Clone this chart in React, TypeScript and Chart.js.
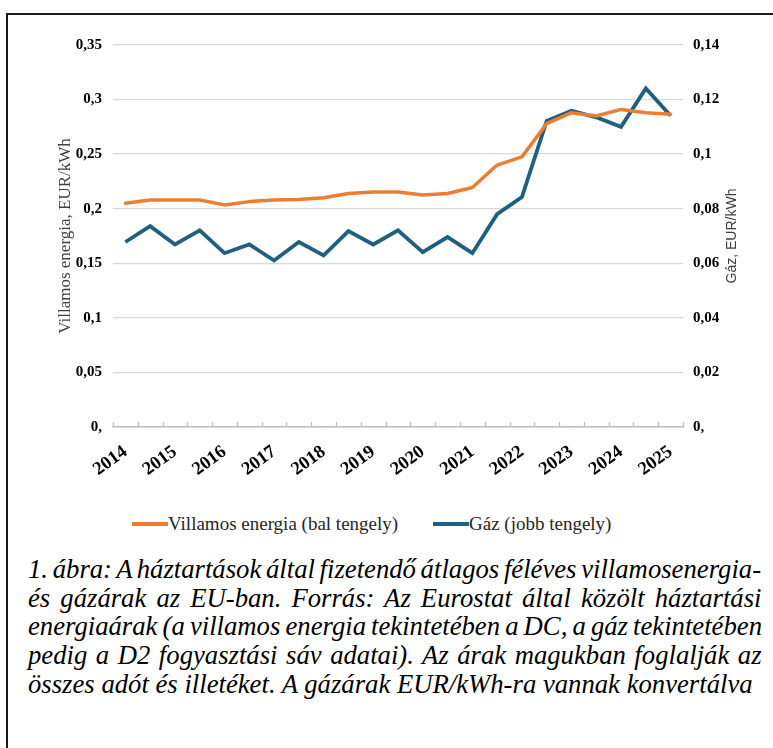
import React, { useEffect, useRef } from "react";
import { Chart, registerables } from "chart.js";

Chart.register(...registerables);

const PERIODS = [
  "2014-S1", "2014-S2", "2015-S1", "2015-S2", "2016-S1", "2016-S2",
  "2017-S1", "2017-S2", "2018-S1", "2018-S2", "2019-S1", "2019-S2",
  "2020-S1", "2020-S2", "2021-S1", "2021-S2", "2022-S1", "2022-S2",
  "2023-S1", "2023-S2", "2024-S1", "2024-S2", "2025-S1",
];
const YEARS = ["2014", "2015", "2016", "2017", "2018", "2019", "2020", "2021", "2022", "2023", "2024", "2025"];

const ELECTRICITY = [
  0.205, 0.208, 0.208, 0.208, 0.2035, 0.2065, 0.208, 0.2085, 0.21, 0.214, 0.2153, 0.2153,
  0.2125, 0.214, 0.2195, 0.24, 0.2475, 0.278, 0.288, 0.285, 0.291, 0.288, 0.2865,
];
const GAS = [
  0.0678, 0.0736, 0.0669, 0.0721, 0.0637, 0.0669, 0.061, 0.0678, 0.0629, 0.0718, 0.0669, 0.0721,
  0.0641, 0.0696, 0.0637, 0.078, 0.0843, 0.1122, 0.1159, 0.1135, 0.11, 0.1241, 0.1141,
];

const LEFT_TICKS = ["0,", "0,05", "0,1", "0,15", "0,2", "0,25", "0,3", "0,35"];
const RIGHT_TICKS = ["0,", "0,02", "0,04", "0,06", "0,08", "0,1", "0,12", "0,14"];

const LEFT_TITLE = "Villamos energia, EUR/kWh";
const RIGHT_TITLE = "Gáz, EUR/kWh";
const SERIES_NAMES = ["Villamos energia (bal tengely)", "Gáz (jobb tengely)"];
const CAPTION_LINES = [
  "1. ábra: A háztartások által fizetendő átlagos féléves villamosenergia-",
  "és gázárak az EU-ban. Forrás: Az Eurostat által közölt háztartási",
  "energiaárak (a villamos energia tekintetében a DC, a gáz tekintetében",
  "pedig a D2 fogyasztási sáv adatai). Az árak magukban foglalják az",
  "összes adót és illetéket. A gázárak EUR/kWh-ra vannak konvertálva",
];

const ORANGE = "#ED7D31";
const BLUE = "#1F5F80";
const SERIF = '"Liberation Serif", "Times New Roman", serif';

const extrasPlugin = {
  id: "extras",
  afterDraw(chart: any) {
    const { ctx, chartArea, scales } = chart;
    const xs = scales.x;
    ctx.save();
    ctx.strokeStyle = "#bfbfbf";
    ctx.lineWidth = 1.3;
    for (let i = 0; i <= PERIODS.length; i++) {
      const x = Math.round(xs.getPixelForValue(i - 0.5)) + 0.5;
      ctx.beginPath();
      ctx.moveTo(x, chartArea.bottom);
      ctx.lineTo(x, chartArea.bottom - 5);
      ctx.stroke();
    }
    const cy = (chartArea.top + chartArea.bottom) / 2;
    ctx.translate(732, cy);
    ctx.rotate(-Math.PI / 2);
    ctx.fillStyle = "#404040";
    ctx.font = '14px "Liberation Sans"';
    ctx.textAlign = "center";
    ctx.textBaseline = "middle";
    ctx.fillText(RIGHT_TITLE, 0, 0);
    ctx.restore();
  },
};

function ChartCanvas() {
  const ref = useRef<HTMLCanvasElement | null>(null);
  useEffect(() => {
    if (!ref.current) return;
    const tickFont = { family: SERIF, weight: "bold" as const, size: 15 };
    const chart = new Chart(ref.current, {
      type: "line",
      data: {
        labels: PERIODS,
        datasets: [
          {
            label: SERIES_NAMES[0],
            data: ELECTRICITY,
            yAxisID: "y",
            borderColor: ORANGE,
            backgroundColor: ORANGE,
            borderWidth: 3.5,
            pointRadius: 0,
            borderJoinStyle: "round",
            borderCapStyle: "round",
          },
          {
            label: SERIES_NAMES[1],
            data: GAS,
            yAxisID: "y1",
            borderColor: BLUE,
            backgroundColor: BLUE,
            borderWidth: 3.8,
            pointRadius: 0,
            borderJoinStyle: "miter",
            borderCapStyle: "butt",
          },
        ],
      },
      options: {
        responsive: false,
        animation: false,
        layout: { padding: { left: 0, right: 0, top: 45, bottom: 0 } },
        plugins: { legend: { display: false }, tooltip: { enabled: false } },
        scales: {
          x: {
            type: "category",
            offset: true,
            grid: { display: false, drawTicks: false },
            border: { display: true, color: "#bfbfbf", width: 1.5 },
            ticks: {
              autoSkip: false,
              maxRotation: 36,
              minRotation: 36,
              padding: 14,
              color: "#000",
              font: { family: SERIF, weight: "bold", size: 18.5 },
              callback: (_v: any, i: number) => (i % 2 === 0 ? YEARS[i / 2] : ""),
            },
            afterFit: (s: any) => {
              s.height = 63;
            },
          },
          y: {
            position: "left",
            min: 0,
            max: 0.35,
            ticks: {
              stepSize: 0.05,
              padding: 11,
              color: "#000",
              font: tickFont,
              callback: (v: any) => LEFT_TICKS[Math.round(Number(v) / 0.05)],
            },
            grid: { color: "#d9d9d9", lineWidth: 1.3, drawTicks: false },
            border: { display: false },
            title: {
              display: true,
              text: LEFT_TITLE,
              color: "#404040",
              font: { family: SERIF, size: 17 },
              padding: { top: 55, bottom: 0 },
            },
            afterFit: (s: any) => {
              s.width = 113;
            },
          },
          y1: {
            position: "right",
            min: 0,
            max: 0.14,
            ticks: {
              stepSize: 0.02,
              padding: 10,
              color: "#000",
              font: tickFont,
              callback: (v: any) => RIGHT_TICKS[Math.round(Number(v) / 0.02)],
            },
            grid: { drawOnChartArea: false, drawTicks: false },
            border: { display: false },
            afterFit: (s: any) => {
              s.width = 90;
            },
          },
        },
      },
      plugins: [extrasPlugin],
    });
    return () => chart.destroy();
  }, []);
  return (
    <canvas
      ref={ref}
      width={773}
      height={490}
      style={{ position: "absolute", left: 0, top: 0, width: 773, height: 490 }}
    />
  );
}

const CAP_SIZE = 26.7;
const CAP_WIDTH = 734;

function Caption() {
  const c = document.createElement("canvas").getContext("2d") as CanvasRenderingContext2D;
  c.font = `italic ${CAP_SIZE}px "Liberation Serif"`;
  return (
    <div
      style={{
        position: "absolute",
        left: 28,
        top: 555,
        width: CAP_WIDTH,
        fontFamily: SERIF,
        fontStyle: "italic",
        fontSize: CAP_SIZE,
        lineHeight: "28.7px",
        color: "#000",
      }}
    >
      {CAPTION_LINES.map((line, i) => {
        const w = c.measureText(line).width;
        const spaces = (line.match(/ /g) || []).length;
        const last = i === CAPTION_LINES.length - 1;
        const ws = last || spaces === 0 ? 0 : (CAP_WIDTH - w) / spaces;
        return (
          <div key={i} style={{ whiteSpace: "pre", wordSpacing: `${ws}px` }}>
            {line}
          </div>
        );
      })}
    </div>
  );
}

export default function App() {
  const legendText: React.CSSProperties = {
    position: "absolute",
    top: 511,
    fontFamily: SERIF,
    fontSize: 19,
    color: "#262626",
    lineHeight: "26px",
    whiteSpace: "nowrap",
    display: "flex",
    alignItems: "center",
  };
  const swatch = (c: string): React.CSSProperties => ({
    display: "inline-block",
    width: 36,
    height: 3.5,
    background: c,
  });
  return (
    <div
      style={{
        position: "absolute",
        left: 0,
        top: 0,
        width: 773,
        height: 748,
        overflow: "hidden",
        background: "#fff",
      }}
    >
      <div
        style={{
          position: "absolute",
          left: 6,
          top: 13,
          width: 900,
          height: 900,
          border: "2px solid #1a1a1a",
        }}
      />
      <ChartCanvas />
      <div style={{ ...legendText, left: 132 }}>
        <span style={swatch(ORANGE)} />
        <span>{SERIES_NAMES[0]}</span>
      </div>
      <div style={{ ...legendText, left: 433 }}>
        <span style={swatch(BLUE)} />
        <span>{SERIES_NAMES[1]}</span>
      </div>
      <Caption />
    </div>
  );
}
